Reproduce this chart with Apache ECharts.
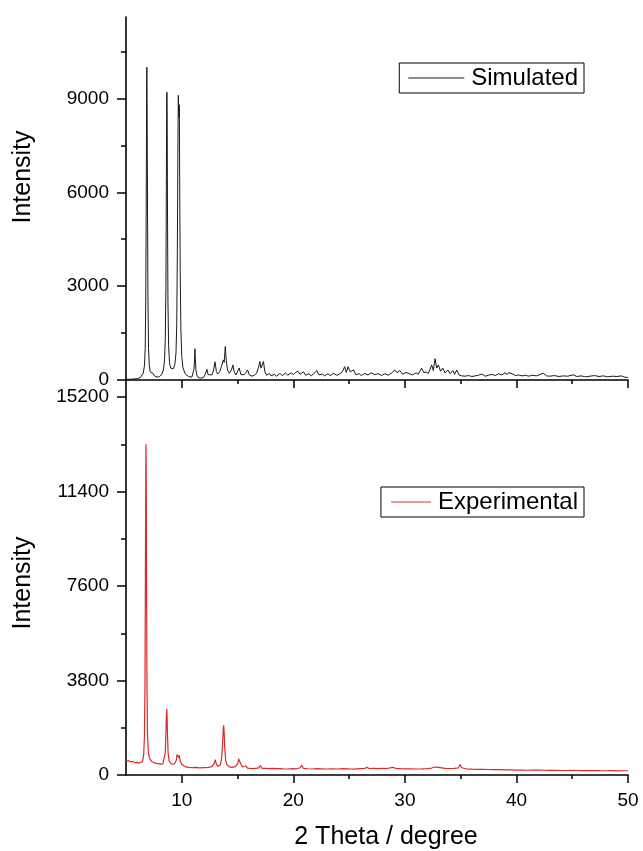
<!DOCTYPE html>
<html>
<head>
<meta charset="utf-8">
<script src="https://cdn.jsdelivr.net/npm/echarts@6/dist/echarts.min.js"></script>
<style>
  html, body { margin: 0; padding: 0; background: #fff; }
  #chart { width: 643px; height: 851px; }
</style>
</head>
<body>
<div id="chart"></div>
<script>
// Powder X-ray diffraction patterns: simulated (top) and experimental (bottom)

// 2θ tick positions
const thetaMajor = [10, 20, 30, 40, 50];
const thetaMinor = [15, 25, 35, 45];

// Intensity ticks, simulated panel
const simMajor = [0, 3000, 6000, 9000];
const simMinor = [1500, 4500, 7500, 10500];

// Intensity ticks, experimental panel
const expMax = 15200;
const expStep = 3800;

// Simulated pattern [2θ, intensity]
const simulated = [
  [5.0, 20], [5.5, 25], [6.0, 40], [6.3, 80], [6.45, 140], [6.55, 220], [6.65, 450], [6.72, 1000],
  [6.77, 2500], [6.81, 5500], [6.85, 9000], [6.87, 10000], [6.89, 9000], [6.93, 5500], [6.97, 2500],
  [7.02, 1000], [7.09, 450], [7.17, 260], [7.25, 240], [7.33, 310], [7.4, 220], [7.55, 130],
  [7.8, 90], [8.0, 110], [8.2, 170], [8.35, 320], [8.45, 600], [8.52, 1300], [8.58, 3000],
  [8.62, 6500], [8.65, 9000], [8.67, 9200], [8.69, 8500], [8.72, 5500], [8.76, 2500], [8.82, 1100],
  [8.9, 550], [9.0, 380], [9.1, 320], [9.25, 360], [9.38, 500], [9.48, 850], [9.55, 1800],
  [9.6, 4000], [9.65, 7200], [9.69, 9100], [9.72, 8700], [9.75, 8400], [9.78, 8800], [9.81, 6500],
  [9.86, 3500], [9.92, 1600], [10.0, 750], [10.1, 400], [10.3, 200], [10.6, 110], [10.9, 90],
  [11.03, 150], [11.1, 350], [11.15, 700], [11.18, 1000], [11.21, 700], [11.27, 330], [11.35, 150],
  [11.5, 70], [11.8, 60], [12.0, 100], [12.12, 200], [12.25, 340], [12.36, 170], [12.5, 110],
  [12.7, 160], [12.85, 320], [12.98, 580], [13.1, 270], [13.22, 190], [13.4, 260], [13.55, 420],
  [13.65, 380], [13.72, 640], [13.8, 560], [13.9, 1070], [13.99, 620], [14.1, 320], [14.25, 210],
  [14.45, 310], [14.58, 480], [14.7, 260], [14.85, 160], [15.0, 210], [15.15, 380], [15.3, 170],
  [15.45, 130], [15.6, 170], [15.75, 240], [15.9, 320], [16.05, 160], [16.3, 120], [16.5, 150],
  [16.7, 210], [16.88, 400], [17.0, 590], [17.1, 380], [17.22, 420], [17.32, 590], [17.45, 260],
  [17.6, 150], [17.85, 210], [18.0, 130], [18.3, 180], [18.5, 120], [18.8, 210], [19.0, 140],
  [19.3, 220], [19.5, 150], [19.8, 230], [20.0, 170], [20.2, 240], [20.4, 280], [20.6, 180],
  [20.9, 260], [21.1, 150], [21.4, 200], [21.6, 130], [21.9, 220], [22.1, 300], [22.3, 160],
  [22.6, 190], [22.8, 130], [23.1, 200], [23.3, 140], [23.6, 210], [23.9, 150], [24.1, 180],
  [24.4, 260], [24.6, 425], [24.75, 240], [24.9, 425], [25.1, 260], [25.4, 320], [25.6, 170],
  [25.9, 200], [26.1, 140], [26.4, 210], [26.7, 160], [27.0, 230], [27.3, 170], [27.6, 200],
  [27.9, 140], [28.2, 200], [28.5, 150], [28.8, 220], [29.1, 320], [29.3, 230], [29.55, 300],
  [29.8, 180], [30.1, 240], [30.4, 200], [30.7, 160], [31.0, 230], [31.2, 180], [31.5, 380],
  [31.7, 230], [31.9, 260], [32.1, 200], [32.4, 480], [32.55, 300], [32.7, 680], [32.85, 380],
  [33.0, 480], [33.2, 280], [33.4, 380], [33.6, 220], [33.85, 320], [34.05, 200], [34.3, 300],
  [34.45, 180], [34.65, 320], [34.85, 160], [35.1, 130], [35.4, 120], [35.7, 140], [36.0, 110],
  [36.3, 130], [36.6, 150], [36.9, 190], [37.2, 120], [37.5, 150], [37.8, 180], [38.1, 140],
  [38.4, 200], [38.7, 160], [39.0, 235], [39.15, 170], [39.3, 235], [39.6, 200], [39.9, 140],
  [40.2, 160], [40.5, 130], [40.8, 150], [41.1, 120], [41.4, 150], [41.8, 130], [42.1, 170],
  [42.4, 215], [42.7, 130], [43.0, 120], [43.4, 140], [43.8, 110], [44.2, 130], [44.6, 120],
  [45.1, 165], [45.4, 110], [45.8, 130], [46.2, 100], [46.6, 120], [47.0, 140], [47.4, 110],
  [47.8, 130], [48.2, 100], [48.6, 120], [49.0, 110], [49.4, 130], [49.7, 90], [50.0, 80]
];

// Experimental pattern [2θ, intensity]
const experimental = [
  [5.0, 560], [5.2, 580], [5.4, 530], [5.6, 540], [5.8, 500], [6.0, 510], [6.2, 480], [6.35, 470],
  [6.48, 540], [6.58, 800], [6.65, 1500], [6.7, 3500], [6.74, 8000], [6.77, 12000], [6.79, 13300],
  [6.81, 12000], [6.84, 8000], [6.88, 3500], [6.93, 1600], [7.0, 950], [7.1, 680], [7.3, 540],
  [7.5, 500], [7.7, 470], [7.9, 460], [8.1, 440], [8.3, 450], [8.42, 520], [8.52, 900], [8.58, 1700],
  [8.62, 2400], [8.65, 2650], [8.68, 2400], [8.72, 1600], [8.78, 850], [8.88, 540], [9.1, 440],
  [9.35, 450], [9.5, 580], [9.58, 820], [9.63, 900], [9.68, 760], [9.74, 700], [9.78, 790],
  [9.85, 580], [10.0, 420], [10.3, 340], [10.6, 310], [11.0, 295], [11.3, 305], [11.6, 285],
  [12.0, 295], [12.4, 305], [12.7, 340], [12.9, 460], [13.0, 620], [13.1, 440], [13.25, 350],
  [13.45, 400], [13.58, 700], [13.66, 1300], [13.72, 1850], [13.75, 2000], [13.79, 1800],
  [13.85, 1100], [13.93, 600], [14.05, 420], [14.25, 330], [14.5, 310], [14.8, 340], [15.02, 460],
  [15.1, 650], [15.15, 720], [15.2, 640], [15.3, 430], [15.45, 320], [15.6, 285], [15.75, 360],
  [15.9, 275], [16.3, 255], [16.6, 270], [16.9, 285], [17.05, 380], [17.2, 270], [17.5, 265],
  [17.8, 255], [18.2, 265], [18.5, 260], [18.65, 330], [18.8, 255], [19.1, 248], [19.5, 242],
  [19.9, 255], [20.3, 250], [20.6, 290], [20.75, 390], [20.9, 270], [21.3, 252], [21.7, 242],
  [22.1, 255], [22.5, 250], [23.0, 242], [23.5, 252], [24.0, 242], [24.5, 255], [25.0, 246],
  [25.5, 240], [26.0, 255], [26.4, 262], [26.6, 310], [26.8, 262], [27.2, 266], [27.6, 256],
  [28.0, 270], [28.4, 262], [28.9, 310], [29.2, 266], [29.6, 256], [30.0, 250], [30.5, 246],
  [31.0, 242], [31.5, 250], [32.0, 260], [32.4, 280], [32.65, 320], [32.8, 350], [33.0, 310],
  [33.3, 290], [33.6, 270], [34.0, 262], [34.4, 266], [34.8, 285], [34.95, 420], [35.1, 290],
  [35.5, 250], [36.0, 236], [36.5, 230], [37.0, 226], [37.5, 222], [38.0, 220], [38.5, 215],
  [39.0, 210], [39.5, 206], [40.0, 200], [40.5, 196], [41.0, 190], [41.5, 196], [42.0, 200],
  [42.5, 190], [43.0, 186], [43.5, 185], [44.0, 180], [44.5, 181], [45.0, 185], [45.5, 180],
  [46.0, 176], [46.5, 178], [47.0, 175], [47.5, 172], [48.0, 170], [48.5, 172], [49.0, 168],
  [49.5, 170], [50.0, 170]
];

const FONT = 'Liberation Sans, Arial, sans-serif';
const INK = '#000';

const chart = echarts.init(document.getElementById('chart'), null, { renderer: 'canvas' });

const axisLine = { show: true, lineStyle: { color: INK, width: 1.6 } };
const plain = (v) => String(v);
const tickLabel = { color: INK, fontSize: 19, fontFamily: FONT, formatter: plain };
const nameStyle = { color: INK, fontSize: 25, fontFamily: FONT };

const grids = [
  { left: 126, top: 17, width: 502, height: 380 },
  { left: 126, top: 397, width: 502, height: 380 }
];

function thetaAxes(gridIndex, withLabels) {
  return [
    {
      type: 'value', gridIndex, min: 5, max: 50, position: 'bottom',
      axisLine,
      axisTick: { show: true, customValues: thetaMajor, length: 8, lineStyle: { color: INK, width: 1.5 } },
      axisLabel: withLabels
        ? Object.assign({ show: true, customValues: thetaMajor, margin: 16 }, tickLabel)
        : { show: false },
      splitLine: { show: false },
      name: withLabels ? '2 Theta / degree' : '',
      nameLocation: 'middle', nameGap: 50,
      nameTextStyle: Object.assign({ padding: [0, 0, 0, 18] }, nameStyle)
    },
    {
      type: 'value', gridIndex, min: 5, max: 50, position: 'bottom',
      axisLine: { show: false },
      axisTick: { show: true, customValues: thetaMinor, length: 4, lineStyle: { color: INK, width: 1.5 } },
      axisLabel: { show: false },
      splitLine: { show: false }
    }
  ];
}

const simMin = -545, simMax = 11605;

const option = {
  animation: false,
  backgroundColor: '#fff',
  grid: grids,
  xAxis: [...thetaAxes(0, false), ...thetaAxes(1, true)],
  yAxis: [
    {
      type: 'value', gridIndex: 0, min: simMin, max: simMax, position: 'left',
      axisLine,
      axisTick: { show: true, customValues: simMajor, length: 9, lineStyle: { color: INK, width: 1.5 } },
      axisLabel: Object.assign({ customValues: simMajor, margin: 17 }, tickLabel),
      splitLine: { show: false },
      name: 'Intensity', nameLocation: 'middle', nameGap: 90,
      nameTextStyle: Object.assign({ padding: [0, 0, 0, 60] }, nameStyle)
    },
    {
      type: 'value', gridIndex: 0, min: simMin, max: simMax, position: 'left',
      axisLine: { show: false },
      axisTick: { show: true, customValues: simMinor, length: 5, lineStyle: { color: INK, width: 1.5 } },
      axisLabel: { show: false },
      splitLine: { show: false }
    },
    {
      type: 'value', gridIndex: 1, min: 0, max: expMax, interval: expStep, position: 'left',
      axisLine,
      axisTick: { show: true, length: 9, lineStyle: { color: INK, width: 1.5 } },
      minorTick: { show: true, splitNumber: 2, length: 5, lineStyle: { color: INK, width: 1.5 } },
      axisLabel: Object.assign({ margin: 17 }, tickLabel),
      splitLine: { show: false },
      name: 'Intensity', nameLocation: 'middle', nameGap: 90,
      nameTextStyle: Object.assign({ padding: [0, 0, 0, 6] }, nameStyle)
    }
  ],
  legend: [
    {
      data: ['Simulated'], right: 59, top: 63,
      borderColor: INK, borderWidth: 1, borderRadius: 0,
      padding: [3, 6, 3, 9], itemWidth: 56, itemHeight: 1.2, itemGap: 0,
      icon: 'rect',
      textStyle: { color: INK, fontSize: 24, fontFamily: FONT, padding: [0, 0, 0, 2] }
    },
    {
      data: ['Experimental'], right: 59, top: 487,
      borderColor: INK, borderWidth: 1, borderRadius: 0,
      padding: [3, 6, 3, 10], itemWidth: 40, itemHeight: 1.2, itemGap: 0,
      icon: 'rect',
      textStyle: { color: INK, fontSize: 24, fontFamily: FONT, padding: [0, 0, 0, 2] }
    }
  ],
  series: [
    {
      name: 'Simulated', type: 'line', xAxisIndex: 0, yAxisIndex: 0,
      data: simulated, showSymbol: false, symbol: 'none',
      lineStyle: { color: '#1a1a1a', width: 1 }, itemStyle: { color: '#1a1a1a' }
    },
    {
      name: 'Experimental', type: 'line', xAxisIndex: 2, yAxisIndex: 2,
      data: experimental, showSymbol: false, symbol: 'none',
      lineStyle: { color: '#dc2a2a', width: 1.2 }, itemStyle: { color: '#dc2a2a' }
    }
  ]
};

chart.setOption(option);
</script>
</body>
</html>
